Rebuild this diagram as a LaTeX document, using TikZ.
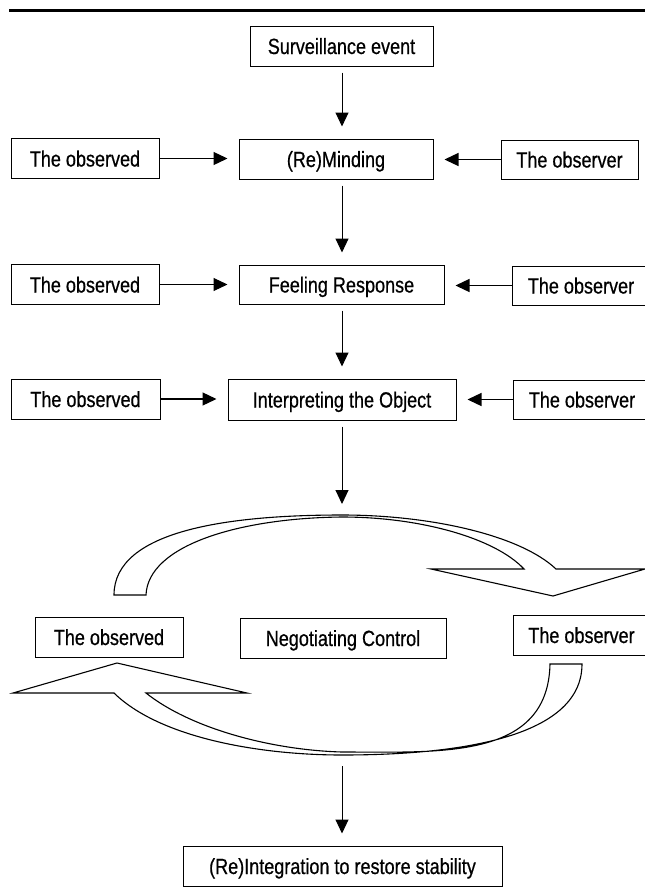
\documentclass[tikz,border=0pt]{standalone}
\usepackage{fontspec}
\setmainfont[FakeStretch=0.82,FakeBold=0.6]{Liberation Sans}
\usetikzlibrary{arrows.meta}
\begin{document}
\begin{tikzpicture}[x=1pt,y=-1pt,
  box/.style={draw, line width=1pt, fill=white, inner sep=0pt, minimum height=40pt,
    text height=16pt, text depth=0pt,
    font=\fontsize{22}{24}\selectfont},
  harr/.style={line width=1.3pt, -{Triangle[length=14pt,width=13pt]}, shorten >=11pt},
  varr/.style={line width=1pt, -{Triangle[length=14pt,width=13pt]}, shorten <=6pt, shorten >=12pt},
  cyc/.style={draw, line width=1.1pt, fill=white, line join=miter},
  rule/.style={line width=3pt}]
\clip (0,0) rectangle (645,894);
\coordinate (ruleL) at (9,10);
\coordinate (ruleR) at (645,10);
\draw[rule] (ruleL) -- (ruleR);

% main column
\node[box, minimum width=183pt] (surv) at (341.5,46) {Surveillance event};
\node[box, minimum width=194pt] (mind) at (336,159) {(Re)Minding};
\node[box, minimum width=205pt, minimum height=39pt] (feel) at (341.5,284.5) {Feeling Response};
\node[box, minimum width=228pt, minimum height=41pt] (interp) at (342,399.5) {Interpreting the Object};
\node[box, minimum width=206pt] (neg) at (343,638) {Negotiating Control};
\node[box, minimum width=319pt] (final) at (342.5,866) {(Re)Integration to restore stability};

% side boxes
\node[box, minimum width=148pt] (o1) at (85,158.5) {The observed};
\node[box, minimum width=137pt, minimum height=39pt] (r1) at (569.5,159.5) {The observer};
\node[box, minimum width=148pt] (o2) at (85,284.5) {The observed};
\node[box, minimum width=138pt, minimum height=39pt] (r2) at (581,285.5) {The observer};
\node[box, minimum width=149pt] (o3) at (85.5,399) {The observed};
\node[box, minimum width=138pt, minimum height=39pt] (r3) at (582,399.5) {The observer};
\node[box, minimum width=148pt] (oc) at (109,637) {The observed};
\node[box, minimum width=137pt] (rc) at (581.5,635) {The observer};

% vertical arrows
\coordinate (ax) at (342,0);
\coordinate (ctop) at (342,516);
\coordinate (cbot) at (342,754);
\draw[varr] (surv.south -| ax) -- (mind.north -| ax);
\draw[varr] (mind.south -| ax) -- (feel.north -| ax);
\draw[varr] (feel.south -| ax) -- (interp.north -| ax);
\draw[varr] (interp.south -| ax) -- (ctop);
\draw[varr, shorten <=12pt] (cbot) -- (final.north -| ax);

% horizontal arrows
\draw[harr] (o1.east) -- (mind.west |- o1.east);
\draw[harr] (r1.west) -- (mind.east |- r1.west);
\draw[harr, line width=1pt] (o2.east) -- (feel.west |- o2.east);
\draw[harr] (r2.west) -- (feel.east |- r2.west);
\draw[harr] (o3.east) -- (interp.west |- o3.east);
\draw[harr] (r3.west) -- (interp.east |- r3.west);

% cycle arrows
\draw[cyc] (114,595) .. controls (114,530) and (230,515) .. (342,515)
  .. controls (430,515) and (520,535) .. (556,569)
  -- (645,569) -- (553,596) -- (431,569) -- (524,569)
  .. controls (495,538) and (420,517) .. (342,517)
  .. controls (240,518) and (148,545) .. (146,595) -- cycle;
\draw[cyc] (582,664) .. controls (582,740) and (450,755) .. (342,755)
  .. controls (260,755) and (160,738) .. (114,693)
  -- (13,693) -- (117,663) -- (247,693) -- (146,693)
  .. controls (190,728) and (270,750) .. (342,752)
  .. controls (440,752) and (548,760) .. (550,664) -- cycle;
\end{tikzpicture}
\end{document}
